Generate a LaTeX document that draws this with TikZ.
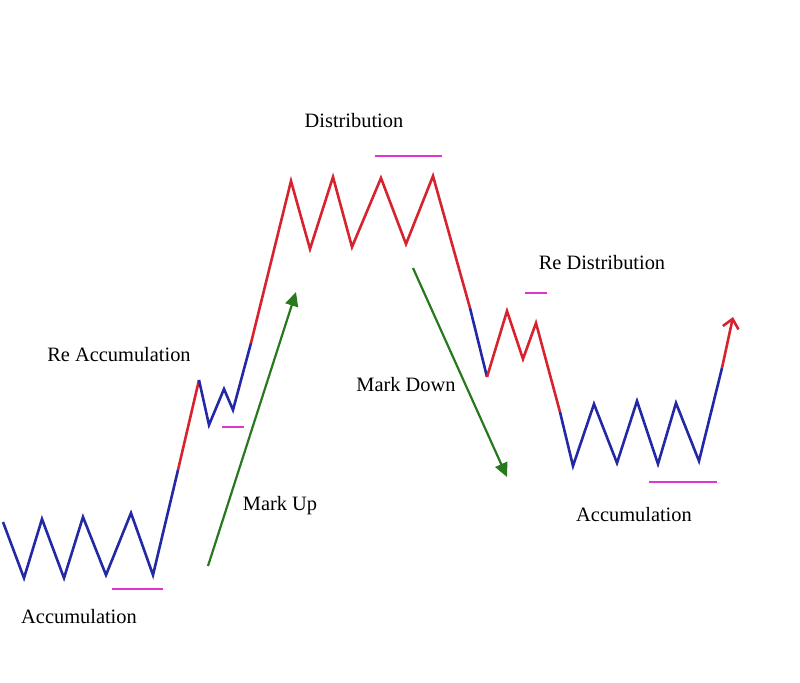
\documentclass[tikz,border=0pt]{standalone}
\usepackage{fontspec}
\setmainfont{Liberation Serif}
\usetikzlibrary{arrows.meta}
\definecolor{accblue}{RGB}{35,40,165}
\definecolor{distred}{RGB}{215,35,45}
\definecolor{movegreen}{RGB}{40,120,30}
\definecolor{lvlpink}{RGB}{225,50,210}

\begin{document}
\begin{tikzpicture}[
    x=0.5pt,y=-0.5pt,
    acc/.style={accblue,line width=1.3pt,line join=miter},
    dist/.style={distred,line width=1.3pt,line join=miter},
    move/.style={movegreen,line width=1.1pt,-{Triangle[length=7pt,width=6.5pt]}},
    lvl/.style={lvlpink,line width=1.3pt},
    lbl/.style={font=\fontsize{10.2}{12}\selectfont,inner sep=0pt}
    ]
    \useasboundingbox (0,0) rectangle (800,682);
    % price swings
    \draw[acc] (3,522) -- (24,578) -- (42,519) -- (64,578) -- (83,517)
      -- (106,575) -- (131,513) -- (153,575) -- (178,470);
    \draw[dist] (178,470) -- (199,380);
    \draw[acc] (199,380) -- (209,425) -- (224,389) -- (233,410) -- (251,343);
    \draw[dist] (251,343) -- (291,181) -- (310,249) -- (333,177) -- (352,247)
      -- (381,178) -- (406,244) -- (433,176) -- (470,308);
    \draw[acc] (470,308) -- (487,377);
    \draw[dist] (487,377) -- (507,311) -- (523,359) -- (536,323) -- (560,412);
    \draw[acc] (560,412) -- (573,466) -- (594,404) -- (617,463) -- (637,401)
      -- (658,464) -- (676,403) -- (699,461) -- (722,368);
    \draw[dist,-{Straight Barb[length=4.5pt,width=8pt]}] (722,368) -- (733,317);
    % levels
    \draw[lvl] (112,589) -- (163,589);
    \draw[lvl] (222,427) -- (244,427);
    \draw[lvl] (375,156) -- (442,156);
    \draw[lvl] (525,293) -- (547,293);
    \draw[lvl] (649,482) -- (717,482);
    % phases
    \coordinate (upstart) at (208,566);
    \coordinate (upend) at (296,292);
    \coordinate (downstart) at (413,268);
    \coordinate (downend) at (507,477);
    \draw[move] (upstart) -- (upend);
    \draw[move] (downstart) -- (downend);
    % labels
    \node[lbl] (distlbl) at (354,121) {Distribution};
    \node[lbl] (reacclbl) at (119,355) {Re Accumulation};
    \node[lbl] (uplbl) at (280,506) {Mark Up};
    \node[lbl] (downlbl) at (406,385) {Mark Down};
    \node[lbl] (redistlbl) at (602,263) {Re Distribution};
    \node[lbl] (accrlbl) at (634,515) {Accumulation};
    \node[lbl] (acclbl) at (79,617) {Accumulation};
\end{tikzpicture}
\end{document}
